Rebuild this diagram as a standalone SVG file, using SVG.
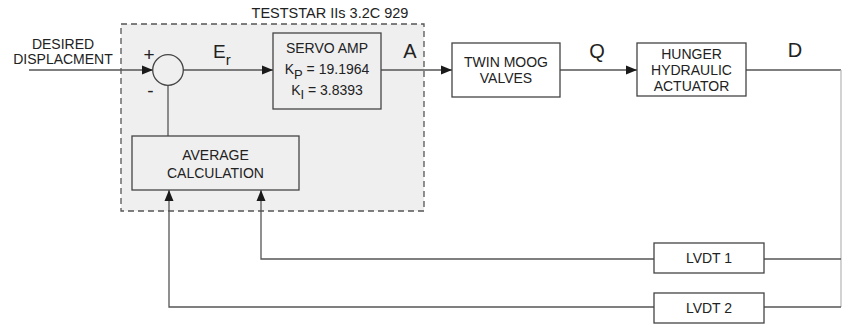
<svg xmlns="http://www.w3.org/2000/svg" width="842" height="324" viewBox="0 0 842 324">
<defs>
<marker id="arr" markerUnits="userSpaceOnUse" markerWidth="12" markerHeight="10" refX="11" refY="5" orient="auto">
<path d="M0,0.5 L11,5 L0,9.5 Z" fill="#1a1a1a"/>
</marker>
</defs>
<style>
.t{font-family:"Liberation Sans",Arial,sans-serif;font-size:14px;fill:#222;}
.big{font-family:"Liberation Sans",Arial,sans-serif;font-size:20px;fill:#222;}
.sub{font-size:13px;}
.box{fill:#fff;stroke:#444;stroke-width:1.3;}
.gbox{fill:#efefef;stroke:#444;stroke-width:1.3;}
.ln{fill:none;stroke:#555;stroke-width:1.3;}
</style>
<rect width="842" height="324" fill="#fff"/>
<g id="testar">
<rect x="121" y="24" width="303" height="187" fill="#efefef" stroke="#555" stroke-width="1.3" stroke-dasharray="6,4"/>
<text class="t" x="330" y="18" text-anchor="middle" style="font-size:14.5px">TESTSTAR IIs 3.2C 929</text>
</g>
<g id="connectors">
<line class="ln" x1="29" y1="70" x2="153" y2="70" marker-end="url(#arr)"/>
<line class="ln" x1="183" y1="70" x2="273" y2="70" marker-end="url(#arr)"/>
<line class="ln" x1="381" y1="70" x2="452" y2="70" marker-end="url(#arr)"/>
<line class="ln" x1="560" y1="70" x2="637" y2="70" marker-end="url(#arr)"/>
<polyline class="ln" points="746,70 841,70"/>
<line x1="841" y1="70" x2="841" y2="307" stroke="#bbb" stroke-width="1.3"/>
<line class="ln" x1="841" y1="307" x2="764" y2="307"/>
<line class="ln" x1="841" y1="259" x2="764" y2="259"/>
<line class="ln" x1="168" y1="85" x2="168" y2="136"/>
<polyline class="ln" points="654,259 261,259 261,190" marker-end="url(#arr)"/>
<polyline class="ln" points="654,307 169,307 169,190" marker-end="url(#arr)"/>
</g>
<g id="input">
<text class="t" x="63" y="49" text-anchor="middle">DESIRED</text>
<text class="t" x="63" y="64" text-anchor="middle">DISPLACMENT</text>
</g>
<g id="sum">
<circle cx="168" cy="70" r="15.3" fill="#efefef" stroke="#444" stroke-width="1.3"/>
<text class="t" x="149" y="61" text-anchor="middle" style="font-size:19px">+</text>
<text class="t" x="150.5" y="97" text-anchor="middle" style="font-size:19px">-</text>
</g>
<g id="er-label">
<text class="big" x="213" y="58" style="font-size:19px">E<tspan class="sub" dy="7" style="font-size:15px">r</tspan></text>
</g>
<g id="servo">
<rect class="gbox" x="273" y="33" width="108" height="76"/>
<text class="t" x="327" y="53" text-anchor="middle">SERVO AMP</text>
<text class="t" x="327" y="74" text-anchor="middle">K<tspan dy="5" class="sub">P</tspan><tspan dy="-5"> = 19.1964</tspan></text>
<text class="t" x="327" y="95" text-anchor="middle">K<tspan dy="4" class="sub">I</tspan><tspan dy="-4"> = 3.8393</tspan></text>
</g>
<g id="a-label"><text class="big" x="410" y="58" text-anchor="middle">A</text></g>
<g id="valves">
<rect class="box" x="452" y="43" width="108" height="54"/>
<text class="t" x="506" y="67" text-anchor="middle">TWIN MOOG</text>
<text class="t" x="506" y="83" text-anchor="middle">VALVES</text>
</g>
<g id="q-label"><text class="big" x="597" y="58" text-anchor="middle">Q</text></g>
<g id="actuator">
<rect class="box" x="637" y="43" width="109" height="53"/>
<text class="t" x="691.5" y="59" text-anchor="middle">HUNGER</text>
<text class="t" x="691.5" y="75" text-anchor="middle">HYDRAULIC</text>
<text class="t" x="691.5" y="91" text-anchor="middle">ACTUATOR</text>
</g>
<g id="d-label"><text class="big" x="795" y="57" text-anchor="middle">D</text></g>
<g id="average">
<rect class="gbox" x="132" y="136" width="167" height="54"/>
<text class="t" x="215.5" y="160" text-anchor="middle">AVERAGE</text>
<text class="t" x="215.5" y="178" text-anchor="middle">CALCULATION</text>
</g>
<g id="lvdt1">
<rect class="box" x="654" y="243" width="110" height="30"/>
<text class="t" x="709" y="263" text-anchor="middle">LVDT 1</text>
</g>
<g id="lvdt2">
<rect class="box" x="654" y="293" width="110" height="30"/>
<text class="t" x="709" y="313" text-anchor="middle">LVDT 2</text>
</g>
</svg>
